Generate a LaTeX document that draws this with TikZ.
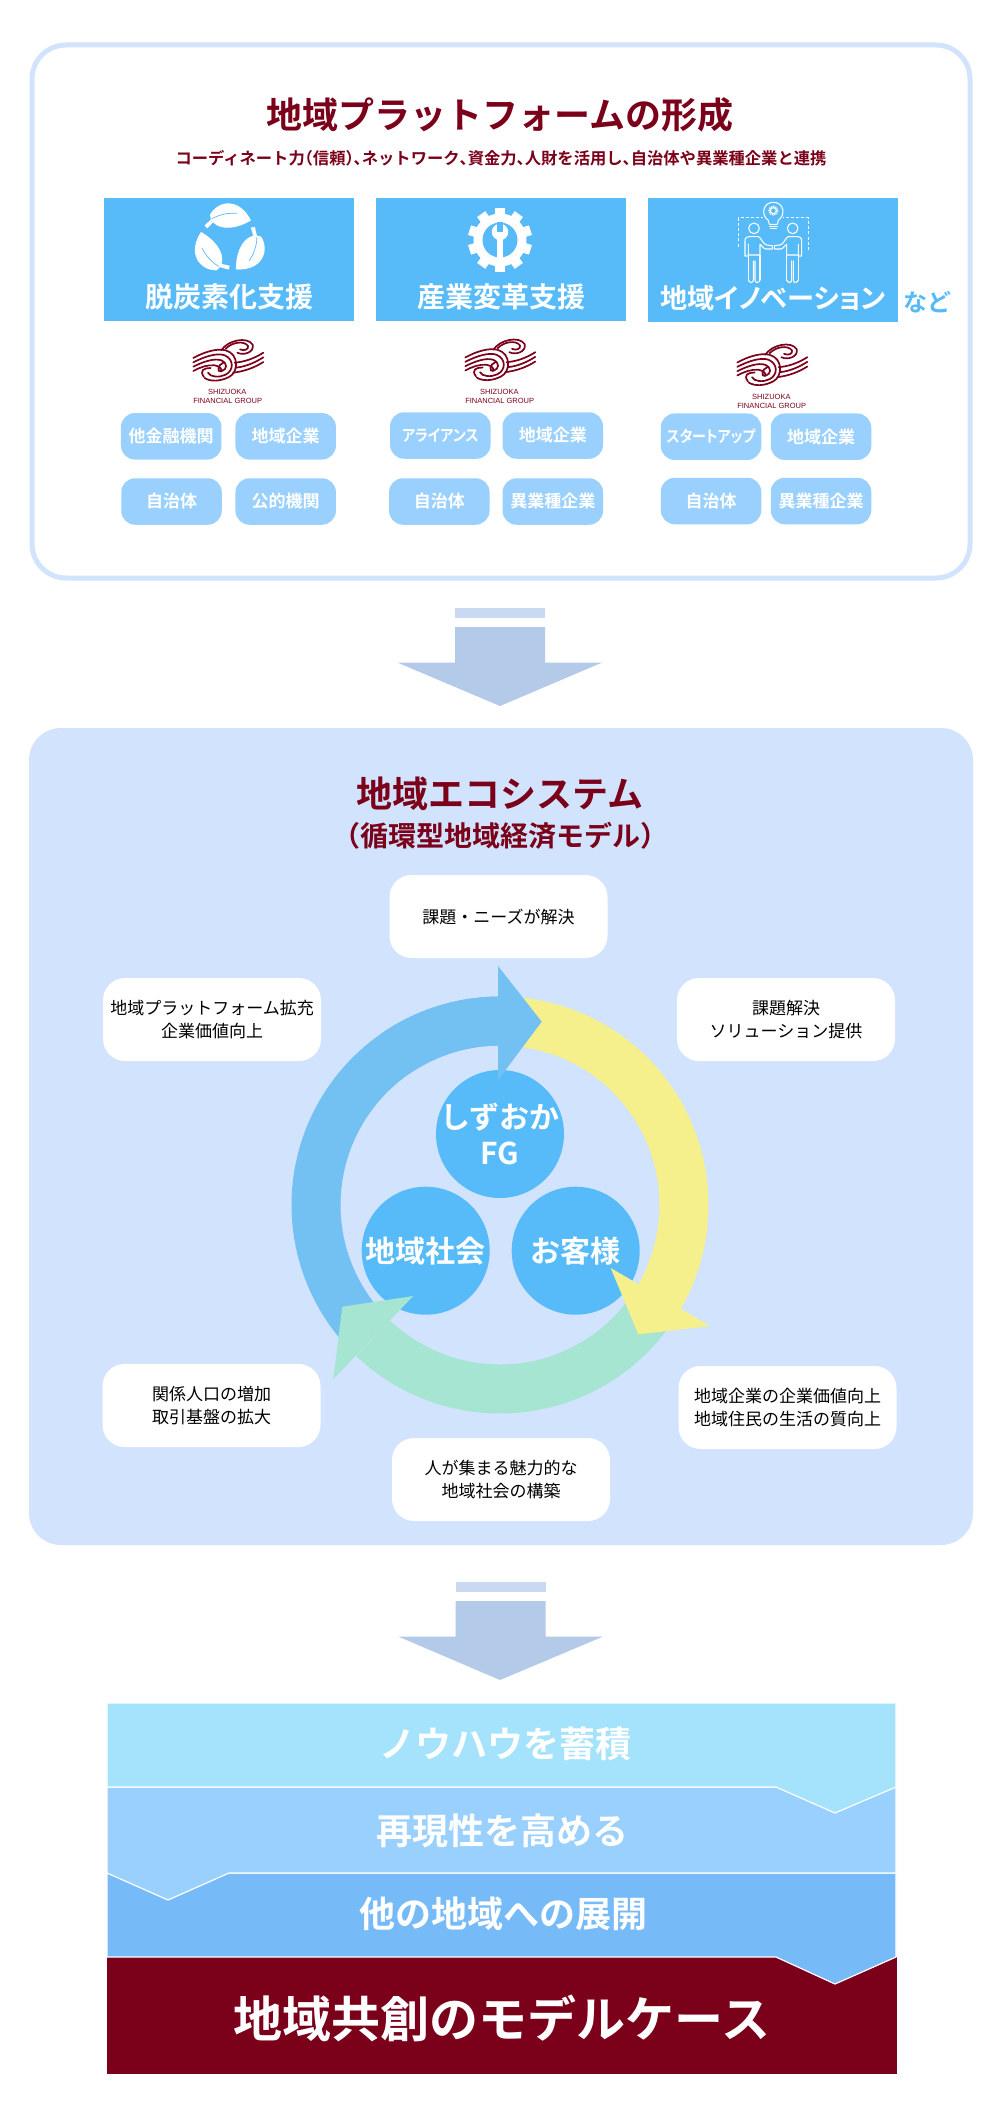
\documentclass[tikz,border=0pt]{standalone}
\usepackage{fontspec}
\setmainfont{Noto Sans CJK JP}[BoldFont={Noto Sans CJK JP Bold}]
\newfontfamily\pf{Noto Sans CJK JP}[BoldFont={Noto Sans CJK JP Bold},RawFeature=+palt]
\newfontfamily\hf{Noto Sans CJK JP}[BoldFont={Noto Sans CJK JP Bold},RawFeature=+halt]
\newfontfamily\logofont{Liberation Sans}
\definecolor{wine}{HTML}{7B0019}
\definecolor{sky}{HTML}{57BBFA}
\definecolor{pillc}{HTML}{99D0FE}
\definecolor{panel}{HTML}{D2E3FD}
\definecolor{arrowc}{HTML}{B3CAE9}
\definecolor{barc}{HTML}{C8D9F1}
\definecolor{ringb}{HTML}{73C0F2}
\definecolor{ringy}{HTML}{F5F08C}
\definecolor{ringg}{HTML}{A5E5D2}
\definecolor{layera}{HTML}{A5E3FC}
\definecolor{layerb}{HTML}{99D0FE}
\definecolor{layerc}{HTML}{77BAF8}
\newcommand{\fsz}[2]{\fontsize{#1}{#2}\selectfont}
\tikzset{
  headbox/.style={fill=sky,minimum width=250,minimum height=123.5,inner sep=0},
  pillbox/.style={fill=pillc,text=white,rounded corners=14pt,font=\bfseries\fsz{17}{20},minimum width=100.5,minimum height=46.5,inner sep=0},
  notebox/.style={fill=white,rounded corners=22pt,font=\fsz{17}{23},align=center,minimum width=218,minimum height=83,inner sep=0},
  hub/.style={circle,fill=sky,text=white,font=\bfseries\fsz{30}{36},align=center,minimum size=128,inner sep=-20pt},
  layertext/.style={text=white,font=\bfseries\fsz{36}{40},inner sep=0},
  layer/.style={draw=white,line width=1.2pt},
  wineline/.style={draw=wine,line width=1.7pt,line cap=round},
  iconline/.style={draw=white,line width=1.05pt,line cap=round,line join=round}
}
\newcommand{\ringarc}[3]{\fill[#1] plot[domain=#2:#3,samples=90] ({500+208.5*cos(\x)},{1205-208.5*sin(\x)}) -- plot[domain=#3:#2,samples=90] ({500+159.5*cos(\x)},{1205-159.5*sin(\x)}) -- cycle;}
% logo: local coordinates are the 270x240 crop with its centre column at 135
\newcommand{\sfglogo}[3]{%
\begin{scope}[shift={(#1-45,#2)},x=.3333pt,y=-.3333pt]
 \draw[wineline] (28,78) .. controls (60,60) and (100,48) .. (125,55) .. controls (165,66) and (165,120) .. (135,135) .. controls (110,148) and (80,150) .. (62,138);
 \draw[wineline] (28,91) .. controls (65,72) and (100,62) .. (122,70) .. controls (150,82) and (150,115) .. (125,128) .. controls (105,138) and (78,135) .. (72,122);
 \draw[wineline] (28,104) .. controls (60,88) and (92,78) .. (112,85) .. controls (132,95) and (130,112) .. (112,118);
 \draw[wineline] (28,117) .. controls (50,105) and (70,98) .. (92,100) .. controls (105,102) and (118,112) .. (110,118) .. controls (100,122) and (100,98) .. (118,92);
 \draw[wineline] (60,135) .. controls (45,115) and (60,108) .. (80,108);
 \draw[wineline] (112,55) .. controls (130,25) and (190,12) .. (206,38) .. controls (212,60) and (180,72) .. (160,62);
 \draw[wineline] (125,50) .. controls (145,30) and (180,25) .. (192,42) .. controls (195,52) and (180,58) .. (168,52);
 \draw[wineline] (238,62) .. controls (210,80) and (180,90) .. (152,92);
 \draw[wineline] (238,76) .. controls (210,94) and (180,105) .. (155,107);
 \draw[wineline] (238,90) .. controls (210,108) and (180,118) .. (148,122);
 \node[text=wine,font=\logofont\fsz{7.5}{9},inner sep=0] (#3a) at (130,181) {SHIZUOKA};
 \node[text=wine,font=\logofont\fsz{7.5}{9},inner sep=0] (#3b) at (131,208) {FINANCIAL GROUP};
\end{scope}}
\newcommand{\oneleaf}{%
 \fill[white] (97,70) .. controls (120,30) and (175,25) .. (205,85) .. controls (175,103) and (130,115) .. (105,90) -- (90,106) -- (83,98) -- (100,82) -- cycle;
 \draw[sky,line width=.7pt] (103,80) .. controls (125,68) and (145,65) .. (168,66);}
\begin{document}
\begin{tikzpicture}[x=1pt,y=-1pt]
\useasboundingbox (0,0) rectangle (1001,2127);
\fill[white] (0,0) rectangle (1001,2127);
% top panel
\draw[panel,line width=5pt,fill=white,rounded corners=34pt] (32,45) rectangle (970,578);
\node[text=wine,font=\bfseries\fsz{36}{40},inner sep=0] (t1) at (500,115) {地域プラットフォームの形成};
\node[text=wine,font=\bfseries\fsz{16.3}{20},inner sep=0] (t2) at (501,158) {コーディネート力{\hf（}信頼{\hf）、}ネットワーク{\hf、}資金力{\hf、}人財を活用し{\hf、}自治体や異業種企業と連携};
% head boxes
\node[headbox] (h1) at (229,259.5) {};
\node[headbox] (h2) at (501,259.5) {};
\node[headbox] (h3) at (773,260) {};
\node[text=white,font=\bfseries\fsz{28}{32},inner sep=0] (h1t) at (229,297) {脱炭素化支援};
\node[text=white,font=\bfseries\fsz{28}{32},inner sep=0] (h2t) at (501,297) {産業変革支援};
\node[text=white,font=\pf\bfseries\fsz{27.2}{32},inner sep=0] (h3t) at (773,298) {地域イノベーション};
\node[text=sky,font=\bfseries\fsz{24}{28},inner sep=0] (nado) at (927,302) {など};
% leaves
\begin{scope}[shift={(173.06,188.2)},x=.38pt,y=-.38pt]
 \oneleaf
 \begin{scope}[rotate around={-120:(148,138)}]\oneleaf\end{scope}
 \begin{scope}[rotate around={120:(148,138)}]\oneleaf\end{scope}
\end{scope}
% gear
\foreach \a in {0,36,...,324}{\fill[white,rotate around={\a:(500,240)}] (495,208) rectangle (505,222);}
\fill[white] (500,240) circle[radius=26.5];
\fill[sky] (500,240) circle[radius=17.5];
\fill[white] (500,232) circle[radius=8.2];
\fill[sky] (496.7,222) rectangle (503.3,232.5);
\fill[white] (496.7,235) rectangle (503.3,260);
% people and idea
\begin{scope}[shift={(773.33,195)},x=.3333pt,y=-.3333pt]
 \draw[iconline,dash pattern=on 3pt off 2.2pt,line cap=butt] (-105,155) -- (-105,68) -- (-30,68);
 \draw[iconline,dash pattern=on 3pt off 2.2pt,line cap=butt] (105,165) -- (105,68) -- (30,68);
 \draw[iconline] (-15,76) .. controls (-38,60) and (-32,22) .. (0,22) .. controls (32,22) and (38,60) .. (15,76) -- (12,88) -- (-12,88) -- cycle;
 \draw[iconline] (0,47) circle[radius=9];
 \draw[iconline,line width=1.5pt,dash pattern=on 1.2pt off 1pt,line cap=butt] (0,47) circle[radius=13];
 \draw[iconline] (-12,94) -- (12,94) (-9,100) -- (9,100);
 \foreach \m in {1,-1}{
 \begin{scope}[xscale=\m]
  \draw[iconline] (-58,100) circle[radius=16];
  \draw[iconline] (-75,255) -- (-75,180) (-40,255) -- (-40,180);
  \draw[iconline] (-85,183) -- (-85,138) .. controls (-85,128) and (-80,125) .. (-70,125) -- (-45,125) .. controls (-38,125) and (-30,150) .. (-20,150) -- (-3,152) -- (-3,162) -- (-22,162) .. controls (-30,162) and (-35,150) .. (-40,148) -- (-40,180) -- (-75,180) -- (-75,148) -- (-75,183) -- (-85,183);
  \draw[iconline] (-75,255) .. controls (-72,265) and (-60,265) .. (-60,255) -- (-60,198);
  \draw[iconline] (-40,255) .. controls (-43,265) and (-55,265) .. (-55,255) -- (-55,198);
 \end{scope}}
\end{scope}
% logos
\sfglogo{229}{332}{la}
\sfglogo{501}{331.5}{lb}
\sfglogo{773}{336.5}{lc}
% pills
\node[pillbox] (p11) at (171.2,436.3) {他金融機関};
\node[pillbox] (p12) at (285.7,436.3) {地域企業};
\node[pillbox] (p13) at (171.5,501.5) {自治体};
\node[pillbox] (p14) at (285.7,501.5) {公的機関};
\node[pillbox,font=\pf\bfseries\fsz{16}{20}] (p21) at (440.3,435.5) {\scalebox{.875}[1]{アライアンス}};
\node[pillbox] (p22) at (552.8,435.5) {地域企業};
\node[pillbox] (p23) at (439.3,501.5) {自治体};
\node[pillbox] (p24) at (552.8,501.5) {異業種企業};
\node[pillbox,font=\pf\bfseries\fsz{16}{20}] (p31) at (711,436.7) {\scalebox{.875}[1]{スタートアップ}};
\node[pillbox] (p32) at (821,436.7) {地域企業};
\node[pillbox] (p33) at (711,501) {自治体};
\node[pillbox] (p34) at (821,501) {異業種企業};
% block arrows
\fill[barc] (455,608) rectangle (545,618);
\fill[arrowc] (455,627) -- (545,627) -- (545,662.7) -- (601.7,662.7) -- (500,706) -- (397.7,662.7) -- (455,662.7) -- cycle;
\fill[barc] (455.7,1582) rectangle (545.7,1592);
\fill[arrowc] (455.7,1601) -- (545.7,1601) -- (545.7,1636.7) -- (602.7,1636.7) -- (500,1680) -- (398.7,1636.7) -- (455.7,1636.7) -- cycle;
% middle panel
\fill[panel,rounded corners=32pt] (29,728) rectangle (973,1545);
\node[text=wine,font=\bfseries\fsz{36}{40},inner sep=0] (t3) at (500,794) {地域エコシステム};
\node[text=wine,font=\bfseries\fsz{28}{34},inner sep=0] (t4) at (500,836) {{\hf（}循環型地域経済モデル{\hf）}};
\node[notebox] (n1) at (498.5,916.5) {課題・ニーズが解決};
\node[notebox] (n2) at (212,1019.5) {地域プラットフォーム拡充\\企業価値向上};
\node[notebox] (n3) at (786,1019.5) {課題解決\\ソリューション提供};
\node[notebox] (n4) at (211.5,1405.5) {関係人口の増加\\取引基盤の拡大};
\node[notebox] (n5) at (787.5,1407.5) {地域企業の企業価値向上\\地域住民の生活の質向上};
\node[notebox] (n6) at (501,1479.5) {人が集まる魅力的な\\地域社会の構築};
\node[hub] (c1) at (500,1134) {しずおか\\FG};
\node[hub] (c2) at (425.7,1250.7) {地域社会};
\node[hub] (c3) at (575.7,1250.7) {お客様};
% ring
\ringarc{ringb}{90.5}{225}
\ringarc{ringg}{-33}{-133.6}
\fill[ringg] (413.3,1296) -- (342.3,1306.7) -- (333.3,1379) -- cycle;
\ringarc{ringy}{85}{-30.3}
\fill[ringy] (610.7,1268) -- (638.3,1334.3) -- (710,1326) -- cycle;
\ringarc{ringb}{90.5}{125}
\fill[ringb] (498,966) -- (541.7,1021.7) -- (498,1080) -- cycle;
% stack
\fill[wine] (107,1957) rectangle (897,2074);
\draw[layer,fill=layerc] (107,1873) -- (896,1873) -- (896,1957) -- (835,1984) -- (776,1957) -- (107,1957) -- cycle;
\draw[layer,fill=layerb] (107,1787) -- (896,1787) -- (896,1873) -- (229,1873) -- (168,1900) -- (107,1873) -- cycle;
\draw[layer,fill=layera] (107,1703) -- (896,1703) -- (896,1787) -- (835,1813) -- (776,1787) -- (107,1787) -- cycle;
\node[layertext] (s1) at (505,1744) {ノウハウを蓄積};
\node[layertext] (s2) at (502,1831) {再現性を高める};
\node[layertext] (s3) at (503,1914) {他の地域への展開};
\node[layertext,font=\bfseries\fsz{49}{54}] (s4) at (502,2018) {地域共創のモデルケース};
\end{tikzpicture}
\end{document}
